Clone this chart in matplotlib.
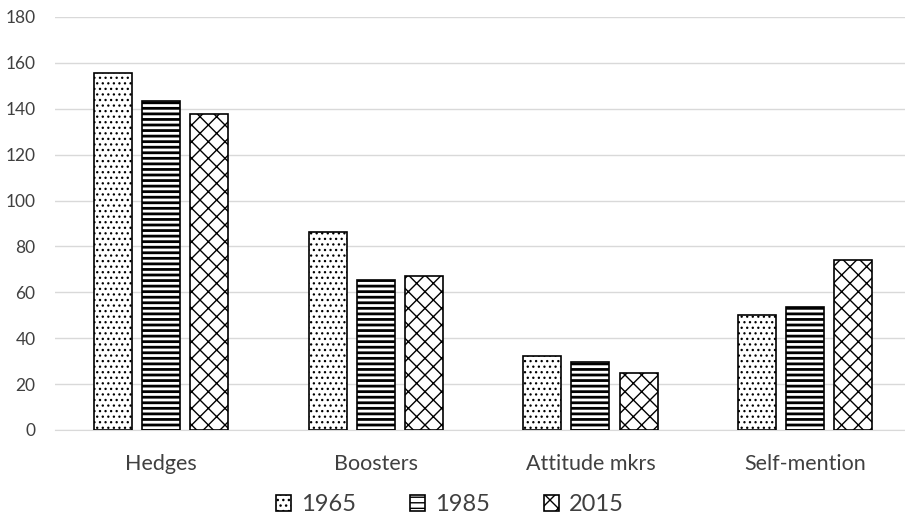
import matplotlib.pyplot as plt
import numpy as np

plt.rcParams['font.family'] = ['Lato', 'DejaVu Sans']

categories = ['Hedges', 'Boosters', 'Attitude mkrs', 'Self-mention']
years = ['1965', '1985', '2015']
v1965 = [155.6, 86.3, 32.3, 50.1]
v1985 = [143.4, 65.4, 29.6, 53.6]
v2015 = [137.7, 67.1, 24.8, 74.1]

hatches = ['...', '---', 'xx']
hatch_lw = [0.9, 2.0, 1.0]

fig = plt.figure(figsize=(9.05, 5.22), dpi=100)
ax = fig.add_axes([55 / 905, 92 / 522, 850 / 905, 413 / 522])

x = np.arange(len(categories))
width = 0.177
step = 0.224
for i, (vals, yr) in enumerate(zip([v1965, v1985, v2015], years)):
    bars = ax.bar(x + (i - 1) * step, vals, width, color='white', edgecolor='black',
                  linewidth=1.2, hatch=hatches[i], label=yr, zorder=3)
    for b in bars:
        try:
            b.set_hatch_linewidth(hatch_lw[i])
        except AttributeError:
            pass

ax.set_xlim(-0.494, 3.465)
ax.set_ylim(0, 180)
ax.set_yticks(range(0, 181, 20))
ax.set_xticks(x)
ax.set_xticklabels(categories, fontsize=15.5, color='#404040')
ax.tick_params(axis='y', labelsize=12.5, labelcolor='#404040', length=0, pad=14)
ax.tick_params(axis='x', length=0, pad=17)
ax.grid(axis='y', color='#d9d9d9', linewidth=1, zorder=0)
for s in ['top', 'right', 'left']:
    ax.spines[s].set_visible(False)
ax.spines['bottom'].set_color('#d9d9d9')

handles, labels = ax.get_legend_handles_labels()
fig.legend(handles, labels, loc='lower center', bbox_to_anchor=(0.497, -0.028), ncol=3,
           frameon=False, fontsize=17, handlelength=0.65, handleheight=0.65,
           columnspacing=2.3, handletextpad=0.4, labelcolor='#404040')

fig.savefig('out.png', dpi=100)
